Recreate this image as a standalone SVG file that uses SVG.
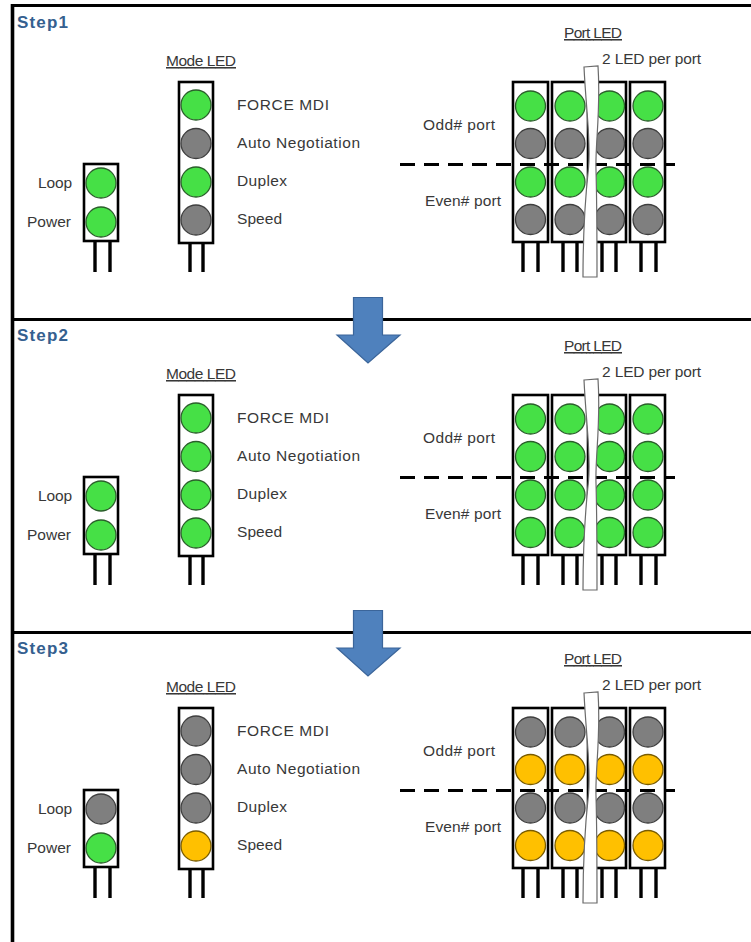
<svg xmlns="http://www.w3.org/2000/svg" xmlns:xlink="http://www.w3.org/1999/xlink" width="751" height="942" viewBox="0 0 751 942">
<style>
.frame{stroke:#000;stroke-width:3.2;fill:none}
.box{fill:#fff;stroke:#000;stroke-width:2.6}
.leg{stroke:#000;stroke-width:3.4}
.g{fill:#46e046;stroke:#2b5e2b;stroke-width:1.3}
.k{fill:#7f7f7f;stroke:#3f3f3f;stroke-width:1.3}
.y{fill:#ffc000;stroke:#7a5c00;stroke-width:1.3}
.lbl{font-family:"Liberation Sans",Arial,sans-serif;font-size:15.5px;fill:#383838}
.step{font-family:"Liberation Sans",Arial,sans-serif;font-size:17px;font-weight:bold;fill:#35608f}
.dash{stroke:#000;stroke-width:3;stroke-dasharray:15 9;fill:none}
.strip{fill:#fff;stroke:#6a6a6a;stroke-width:1.2}
.arrow{fill:#4f81bd;stroke:#3b659a;stroke-width:1.2}
</style>
<rect x="0" y="0" width="751" height="942" fill="#fff"/>
<g id="frame">
<line class="frame" x1="12.5" y1="4" x2="12.5" y2="942" style="stroke-width:3.6"/>
<line class="frame" x1="11" y1="5.5" x2="751" y2="5.5"/>
<line class="frame" x1="11" y1="319.5" x2="751" y2="319.5"/>
<line class="frame" x1="11" y1="632.5" x2="751" y2="632.5"/>
</g>

<!-- STEP 1 -->
<g id="step1">
<text class="step" x="17" y="27.5" textLength="51">Step1</text>
<g id="s1-loop-power">
<line class="leg" x1="95" y1="241" x2="95" y2="272"/><line class="leg" x1="110" y1="241" x2="110" y2="272"/>
<rect class="box" x="84" y="164" width="34" height="77"/>
<circle class="g" cx="101" cy="183" r="15"/><circle class="g" cx="101" cy="222" r="15"/>
<text class="lbl" x="38" y="188" textLength="34">Loop</text>
<text class="lbl" x="27" y="227" textLength="44">Power</text>
</g>
<g id="s1-mode">
<text class="lbl" x="166" y="66" textLength="70" text-decoration="underline">Mode LED</text>
<line class="leg" x1="190" y1="243" x2="190" y2="272"/><line class="leg" x1="203" y1="243" x2="203" y2="272"/>
<rect class="box" x="179" y="82" width="34" height="161"/>
<circle class="g" cx="196" cy="105" r="15"/><circle class="k" cx="196" cy="143.5" r="15"/><circle class="g" cx="196" cy="182" r="15"/><circle class="k" cx="196" cy="220" r="15"/>
<text class="lbl" x="237" y="110" textLength="92">FORCE MDI</text>
<text class="lbl" x="237" y="148" textLength="123">Auto Negotiation</text>
<text class="lbl" x="237" y="186" textLength="50">Duplex</text>
<text class="lbl" x="237" y="224" textLength="45">Speed</text>
</g>
<g id="s1-port">
<text class="lbl" x="564" y="38" textLength="58" text-decoration="underline">Port LED</text>
<text class="lbl" x="602" y="64" textLength="99">2 LED per port</text>
<text class="lbl" x="423" y="130" textLength="72">Odd# port</text>
<text class="lbl" x="425" y="206" textLength="76">Even# port</text>
<g>
<line class="leg" x1="523" y1="242" x2="523" y2="272"/><line class="leg" x1="538" y1="242" x2="538" y2="272"/>
<line class="leg" x1="563" y1="242" x2="563" y2="272"/><line class="leg" x1="577" y1="242" x2="577" y2="272"/>
<line class="leg" x1="602" y1="242" x2="602" y2="272"/><line class="leg" x1="616" y1="242" x2="616" y2="272"/>
<line class="leg" x1="641" y1="242" x2="641" y2="272"/><line class="leg" x1="656" y1="242" x2="656" y2="272"/>
<rect class="box" x="513" y="82" width="35" height="160"/>
<rect class="box" x="552" y="82" width="36" height="160"/>
<rect class="box" x="591" y="82" width="35" height="160"/>
<rect class="box" x="630" y="82" width="35" height="160"/>
</g>
<g>
<circle class="g" cx="530.5" cy="106" r="15"/><circle class="k" cx="530.5" cy="143.5" r="15"/><circle class="g" cx="530.5" cy="182" r="15"/><circle class="k" cx="530.5" cy="219.5" r="15"/>
<circle class="g" cx="570" cy="106" r="15"/><circle class="k" cx="570" cy="143.5" r="15"/><circle class="g" cx="570" cy="182" r="15"/><circle class="k" cx="570" cy="219.5" r="15"/>
<circle class="g" cx="609.5" cy="106" r="15"/><circle class="k" cx="609.5" cy="143.5" r="15"/><circle class="g" cx="609.5" cy="182" r="15"/><circle class="k" cx="609.5" cy="219.5" r="15"/>
<circle class="g" cx="648" cy="106" r="15"/><circle class="k" cx="648" cy="143.5" r="15"/><circle class="g" cx="648" cy="182" r="15"/><circle class="k" cx="648" cy="219.5" r="15"/>
</g>
<line class="dash" x1="400" y1="164.5" x2="675" y2="164.5"/>
<path class="strip" d="M584,67 L598,66 C601,110 595,145 596,170 C597,205 597,240 597,277 L583,277 C583,240 585,200 588.5,168 C591,140 586,110 584,67 Z"/>
</g>
</g>

<g id="arrow1"><path class="arrow" d="M353.5,297.5 L382.5,297.5 L382.5,335 L400,335 L368,363 L337,335 L353.5,335 Z"/></g>

<!-- STEP 2 -->
<g id="step2" transform="translate(0,313)">
<text class="step" x="17" y="27.5" textLength="51">Step2</text>
<g id="s2-loop-power">
<line class="leg" x1="95" y1="241" x2="95" y2="272"/><line class="leg" x1="110" y1="241" x2="110" y2="272"/>
<rect class="box" x="84" y="164" width="34" height="77"/>
<circle class="g" cx="101" cy="183" r="15"/><circle class="g" cx="101" cy="222" r="15"/>
<text class="lbl" x="38" y="188" textLength="34">Loop</text>
<text class="lbl" x="27" y="227" textLength="44">Power</text>
</g>
<g id="s2-mode">
<text class="lbl" x="166" y="66" textLength="70" text-decoration="underline">Mode LED</text>
<line class="leg" x1="190" y1="243" x2="190" y2="272"/><line class="leg" x1="203" y1="243" x2="203" y2="272"/>
<rect class="box" x="179" y="82" width="34" height="161"/>
<circle class="g" cx="196" cy="105" r="15"/><circle class="g" cx="196" cy="143.5" r="15"/><circle class="g" cx="196" cy="182" r="15"/><circle class="g" cx="196" cy="220" r="15"/>
<text class="lbl" x="237" y="110" textLength="92">FORCE MDI</text>
<text class="lbl" x="237" y="148" textLength="123">Auto Negotiation</text>
<text class="lbl" x="237" y="186" textLength="50">Duplex</text>
<text class="lbl" x="237" y="224" textLength="45">Speed</text>
</g>
<g id="s2-port">
<text class="lbl" x="564" y="38" textLength="58" text-decoration="underline">Port LED</text>
<text class="lbl" x="602" y="64" textLength="99">2 LED per port</text>
<text class="lbl" x="423" y="130" textLength="72">Odd# port</text>
<text class="lbl" x="425" y="206" textLength="76">Even# port</text>
<g>
<line class="leg" x1="523" y1="242" x2="523" y2="272"/><line class="leg" x1="538" y1="242" x2="538" y2="272"/>
<line class="leg" x1="563" y1="242" x2="563" y2="272"/><line class="leg" x1="577" y1="242" x2="577" y2="272"/>
<line class="leg" x1="602" y1="242" x2="602" y2="272"/><line class="leg" x1="616" y1="242" x2="616" y2="272"/>
<line class="leg" x1="641" y1="242" x2="641" y2="272"/><line class="leg" x1="656" y1="242" x2="656" y2="272"/>
<rect class="box" x="513" y="82" width="35" height="160"/>
<rect class="box" x="552" y="82" width="36" height="160"/>
<rect class="box" x="591" y="82" width="35" height="160"/>
<rect class="box" x="630" y="82" width="35" height="160"/>
</g>
<g>
<circle class="g" cx="530.5" cy="106" r="15"/><circle class="g" cx="530.5" cy="143.5" r="15"/><circle class="g" cx="530.5" cy="182" r="15"/><circle class="g" cx="530.5" cy="219.5" r="15"/>
<circle class="g" cx="570" cy="106" r="15"/><circle class="g" cx="570" cy="143.5" r="15"/><circle class="g" cx="570" cy="182" r="15"/><circle class="g" cx="570" cy="219.5" r="15"/>
<circle class="g" cx="609.5" cy="106" r="15"/><circle class="g" cx="609.5" cy="143.5" r="15"/><circle class="g" cx="609.5" cy="182" r="15"/><circle class="g" cx="609.5" cy="219.5" r="15"/>
<circle class="g" cx="648" cy="106" r="15"/><circle class="g" cx="648" cy="143.5" r="15"/><circle class="g" cx="648" cy="182" r="15"/><circle class="g" cx="648" cy="219.5" r="15"/>
</g>
<line class="dash" x1="400" y1="164.5" x2="675" y2="164.5"/>
<path class="strip" d="M584,67 L598,66 C601,110 595,145 596,170 C597,205 597,240 597,277 L583,277 C583,240 585,200 588.5,168 C591,140 586,110 584,67 Z"/>
</g>
</g>

<g id="arrow2"><path class="arrow" d="M353.5,610.5 L382.5,610.5 L382.5,648 L400,648 L368,676 L337,648 L353.5,648 Z"/></g>

<!-- STEP 3 -->
<g id="step3" transform="translate(0,626)">
<text class="step" x="17" y="27.5" textLength="51">Step3</text>
<g id="s3-loop-power">
<line class="leg" x1="95" y1="241" x2="95" y2="272"/><line class="leg" x1="110" y1="241" x2="110" y2="272"/>
<rect class="box" x="84" y="164" width="34" height="77"/>
<circle class="k" cx="101" cy="183" r="15"/><circle class="g" cx="101" cy="222" r="15"/>
<text class="lbl" x="38" y="188" textLength="34">Loop</text>
<text class="lbl" x="27" y="227" textLength="44">Power</text>
</g>
<g id="s3-mode">
<text class="lbl" x="166" y="66" textLength="70" text-decoration="underline">Mode LED</text>
<line class="leg" x1="190" y1="243" x2="190" y2="272"/><line class="leg" x1="203" y1="243" x2="203" y2="272"/>
<rect class="box" x="179" y="82" width="34" height="161"/>
<circle class="k" cx="196" cy="105" r="15"/><circle class="k" cx="196" cy="143.5" r="15"/><circle class="k" cx="196" cy="182" r="15"/><circle class="y" cx="196" cy="220" r="15"/>
<text class="lbl" x="237" y="110" textLength="92">FORCE MDI</text>
<text class="lbl" x="237" y="148" textLength="123">Auto Negotiation</text>
<text class="lbl" x="237" y="186" textLength="50">Duplex</text>
<text class="lbl" x="237" y="224" textLength="45">Speed</text>
</g>
<g id="s3-port">
<text class="lbl" x="564" y="38" textLength="58" text-decoration="underline">Port LED</text>
<text class="lbl" x="602" y="64" textLength="99">2 LED per port</text>
<text class="lbl" x="423" y="130" textLength="72">Odd# port</text>
<text class="lbl" x="425" y="206" textLength="76">Even# port</text>
<g>
<line class="leg" x1="523" y1="242" x2="523" y2="272"/><line class="leg" x1="538" y1="242" x2="538" y2="272"/>
<line class="leg" x1="563" y1="242" x2="563" y2="272"/><line class="leg" x1="577" y1="242" x2="577" y2="272"/>
<line class="leg" x1="602" y1="242" x2="602" y2="272"/><line class="leg" x1="616" y1="242" x2="616" y2="272"/>
<line class="leg" x1="641" y1="242" x2="641" y2="272"/><line class="leg" x1="656" y1="242" x2="656" y2="272"/>
<rect class="box" x="513" y="82" width="35" height="160"/>
<rect class="box" x="552" y="82" width="36" height="160"/>
<rect class="box" x="591" y="82" width="35" height="160"/>
<rect class="box" x="630" y="82" width="35" height="160"/>
</g>
<g>
<circle class="k" cx="530.5" cy="106" r="15"/><circle class="y" cx="530.5" cy="143.5" r="15"/><circle class="k" cx="530.5" cy="182" r="15"/><circle class="y" cx="530.5" cy="219.5" r="15"/>
<circle class="k" cx="570" cy="106" r="15"/><circle class="y" cx="570" cy="143.5" r="15"/><circle class="k" cx="570" cy="182" r="15"/><circle class="y" cx="570" cy="219.5" r="15"/>
<circle class="k" cx="609.5" cy="106" r="15"/><circle class="y" cx="609.5" cy="143.5" r="15"/><circle class="k" cx="609.5" cy="182" r="15"/><circle class="y" cx="609.5" cy="219.5" r="15"/>
<circle class="k" cx="648" cy="106" r="15"/><circle class="y" cx="648" cy="143.5" r="15"/><circle class="k" cx="648" cy="182" r="15"/><circle class="y" cx="648" cy="219.5" r="15"/>
</g>
<line class="dash" x1="400" y1="164.5" x2="675" y2="164.5"/>
<path class="strip" d="M584,67 L598,66 C601,110 595,145 596,170 C597,205 597,240 597,277 L583,277 C583,240 585,200 588.5,168 C591,140 586,110 584,67 Z"/>
</g>
</g>
</svg>
